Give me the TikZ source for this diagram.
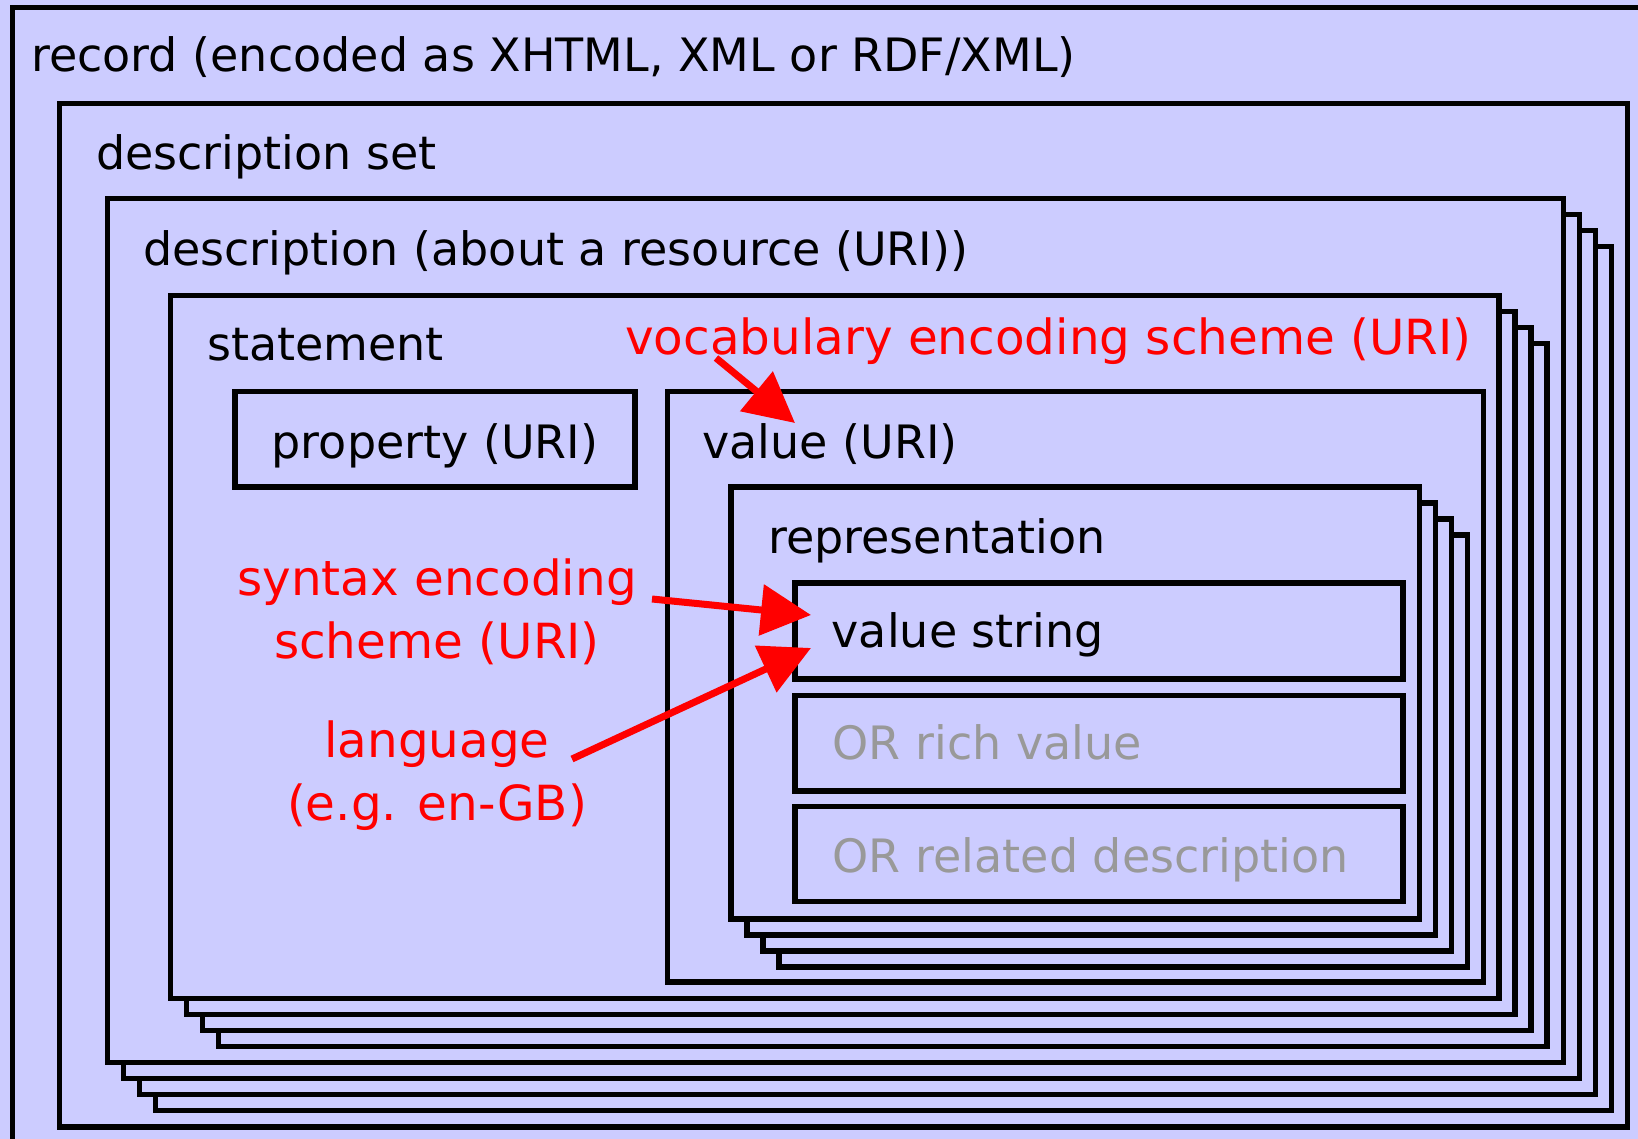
\documentclass[tikz,border=0pt]{standalone}
\usepackage{fontspec}
\setmainfont{DejaVu Sans}
\usetikzlibrary{arrows.meta}
\definecolor{lavender}{RGB}{204,204,255}
\definecolor{hintgray}{RGB}{153,153,153}
\tikzset{
  box/.style={draw=black, line width=5.5pt, fill=lavender},
  lbl/.style={anchor=base west, inner sep=0pt, font=\fontsize{46}{54}\selectfont},
  note/.style={text=red, inner sep=0pt, font=\fontsize{48.4}{63}\selectfont},
  pointer/.style={draw=red, line width=7pt, -{Triangle[length=50pt,width=50pt]}},
}
% a box with three copies stacked behind it
\newcommand{\stackbox}[4]{%
  \foreach \k in {3,2,1} {
    \draw[box] ({#1+16*\k},{#2+16*\k}) rectangle ({#3+16*\k},{#4+16*\k});
  }
  \draw[box] (#1,#2) rectangle (#3,#4);
}
\begin{document}
\begin{tikzpicture}[x=1pt, y=-1pt]
\useasboundingbox (0,0) rectangle (1638,1139);
\clip (0,0) rectangle (1638,1139);
\fill[lavender] (0,0) rectangle (1638,1139);

% containers
\draw[box] (12.5,7.5) rectangle (1700,1200);
\draw[box] (59.5,103.5) rectangle (1627.5,1127);
\stackbox{107.5}{198.5}{1563.5}{1062.5}
\stackbox{170.5}{295.5}{1499}{998.5}
\draw[box] (235,391.5) rectangle (635,487);
\draw[box] (667.5,391.5) rectangle (1483.5,982);
\stackbox{731}{487}{1419.5}{919}
\draw[box] (795,583) rectangle (1403,679);
\draw[box] (795,695.5) rectangle (1403,791);
\draw[box] (795,806.5) rectangle (1403,901.5);

% labels
\node[lbl] (record) at (31,72) {record (encoded as XHTML, XML or RDF/XML)};
\node[lbl] (dset) at (96,170) {description set};
\node[lbl] (desc) at (143,266) {description (about a resource (URI))};
\node[lbl] (stmt) at (207,361) {statement};
\node[lbl] (prop) at (271.5,458) {property (URI)};
\node[lbl] (val) at (702,458) {value (URI)};
\node[lbl] (repr) at (768,553) {representation};
\node[lbl] (vstr) at (831.5,647) {value string};
\node[lbl, text=hintgray] (rich) at (832.5,759) {OR rich value};
\node[lbl, text=hintgray] (related) at (832.5,872) {OR related description};

% red notes
\node[note, anchor=base west] (vocab) at (625,355) {vocabulary encoding scheme (URI)};
\node[note, align=center, anchor=base] (syntax) at (437,658) {syntax encoding\\scheme (URI)};
\node[note, align=center, anchor=base] (lang) at (437,820) {language\\(e.g. en-GB)};

% arrows
\coordinate (vocabfoot) at (716,358);
\coordinate (vocabtip) at (795,423);
\coordinate (syntaxfoot) at (652,599);
\coordinate (syntaxtip) at (811,615);
\coordinate (langfoot) at (572,759);
\coordinate (langtip) at (811,648);
\draw[pointer] (vocabfoot) -- (vocabtip);
\draw[pointer] (syntaxfoot) -- (syntaxtip);
\draw[pointer] (langfoot) -- (langtip);
\end{tikzpicture}
\end{document}
